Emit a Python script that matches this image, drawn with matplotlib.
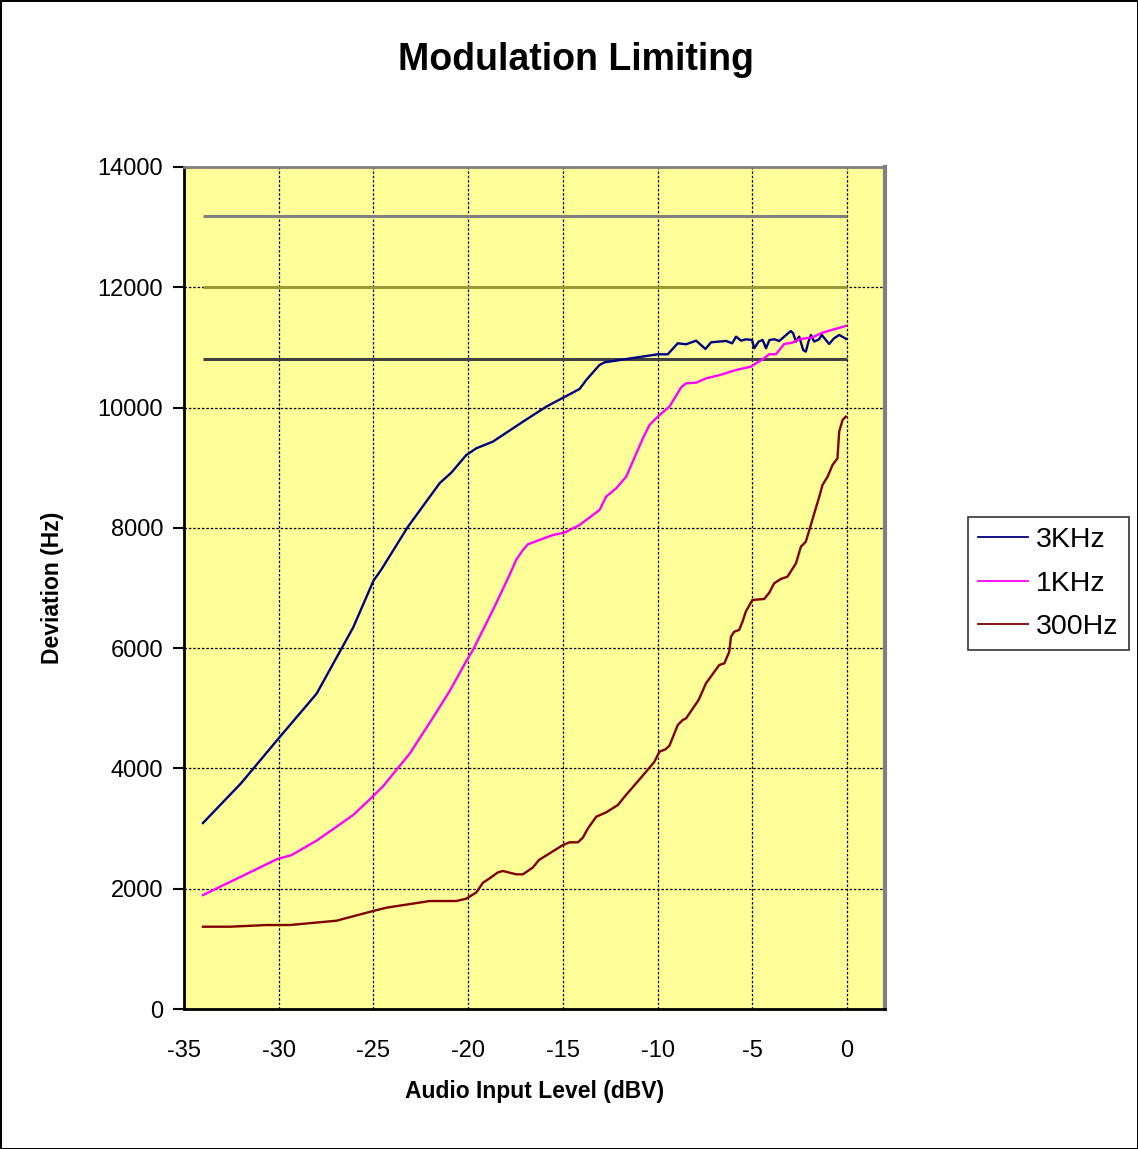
"""
Modulation limiting: deviation vs audio input level for three tones.
"""
import matplotlib
matplotlib.use("Agg")
import matplotlib.pyplot as plt

plt.rcParams["font.family"] = ["Liberation Sans", "DejaVu Sans"]
plt.rcParams["axes.unicode_minus"] = False

# Data
khz3_x = [-34, -32, -30.08, -28.0, -26.07, -25.0, -24.6, -23.18, -21.5, -20.89,
          -20.1, -19.57, -18.7, -17.11, -15.88, -14.12, -13.77, -13.07, -12.8, -10.0,
          -9.47, -8.94, -8.5, -7.97, -7.48, -7.18, -6.39, -6.07, -5.86, -5.6,
          -5.33, -5.02, -4.9, -4.67, -4.46, -4.28, -4.1, -3.84, -3.58, -3.32,
          -2.97, -2.85, -2.7, -2.53, -2.32, -2.18, -2.04, -1.91, -1.74, -1.48,
          -1.34, -0.95, -0.69, -0.42, -0.04]
khz3_y = [3093, 3750, 4473, 5244, 6345, 7121, 7300, 8019, 8745, 8918,
          9211, 9323, 9433, 9765, 10015, 10309, 10458, 10708, 10752, 10885,
          10885, 11068, 11052, 11112, 10974, 11085, 11107, 11068, 11179, 11112,
          11135, 11123, 10985, 11096, 11123, 10985, 11123, 11135, 11107, 11179,
          11273, 11235, 11096, 11179, 10957, 10930, 11096, 11207, 11096, 11135,
          11207, 11057, 11152, 11207, 11140]

khz1_x = [-34, -32, -30.08, -29.32, -28.0, -26.07, -25.0, -24.49, -23.09, -21.94,
          -20.98, -20.07, -19.75, -18.61, -17.82, -17.47, -17.11, -16.85, -15.53, -14.92,
          -14.12, -13.07, -12.72, -12.19, -11.66, -10.78, -10.43, -10.0, -9.38, -8.76,
          -8.5, -7.97, -7.44, -6.71, -5.86, -5.07, -4.81, -4.46, -4.11, -3.76,
          -3.32, -2.88, -2.53, -1.83, -1.3, -0.69, -0.07]
khz1_y = [1895, 2200, 2494, 2560, 2800, 3226, 3545, 3705, 4245, 4805,
          5286, 5803, 5969, 6689, 7216, 7466, 7632, 7727, 7881, 7920,
          8048, 8297, 8518, 8658, 8851, 9489, 9710, 9849, 10015, 10336,
          10403, 10414, 10486, 10541, 10625, 10680, 10736, 10802, 10886, 10886,
          11057, 11079, 11135, 11168, 11245, 11301, 11357]

hz300_x = [-34, -32.57, -30.64, -29.41, -26.95, -25.02, -24.32, -22.03, -20.63, -20.1,
           -19.57, -19.22, -18.87, -18.43, -18.17, -17.47, -17.11, -16.58, -16.27, -15.0,
           -14.65, -14.21, -13.95, -13.68, -13.24, -12.72, -12.1, -11.75, -10.61, -10.17,
           -9.91, -9.59, -9.38, -8.94, -8.68, -8.5, -7.84, -7.45, -6.75, -6.48,
           -6.22, -6.13, -5.96, -5.7, -5.52, -5.35, -5.0, -4.38, -4.11, -3.85,
           -3.5, -3.15, -2.7, -2.44, -2.18, -1.47, -1.3, -1.03, -0.77, -0.51,
           -0.42, -0.24, -0.07]
hz300_y = [1369, 1369, 1397, 1397, 1469, 1630, 1685, 1796, 1796, 1835,
           1940, 2100, 2173, 2273, 2295, 2240, 2240, 2356, 2477, 2727,
           2772, 2772, 2849, 3004, 3198, 3270, 3392, 3530, 3946, 4112,
           4278, 4318, 4378, 4722, 4805, 4833, 5138, 5415, 5720, 5748,
           5941, 6190, 6273, 6302, 6440, 6606, 6801, 6817, 6922, 7078,
           7150, 7188, 7410, 7687, 7770, 8518, 8713, 8851, 9045, 9156,
           9599, 9794, 9849]

# flat limit lines
limit_x = [-34, 0]
limit_levels = [13180, 12000, 10800]
limit_colours = ["#808080", "#9c9a38", "#404040"]

fig = plt.figure(figsize=(11.38, 11.49), dpi=100)
fig.patch.set_edgecolor("black")
fig.patch.set_linewidth(2)
ax = fig.add_axes([0.1617, 0.1218, 0.616, 0.7329])
ax.set_facecolor("#ffff99")

ax.grid(True, color="black", linestyle=(0, (2, 1.5)), linewidth=0.9)
ax.set_axisbelow(True)

for lvl, c in zip(limit_levels, limit_colours):
    ax.plot(limit_x, [lvl, lvl], color=c, linewidth=2.2, solid_capstyle="butt")

ax.plot(khz3_x, khz3_y, color="#000080", linewidth=1.7, label="3KHz")
ax.plot(khz1_x, khz1_y, color="#ff00ff", linewidth=1.7, label="1KHz")
ax.plot(hz300_x, hz300_y, color="#800000", linewidth=1.7, label="300Hz")

ax.set_xlim(-35, 2)
ax.set_ylim(0, 14000)
ax.set_xticks(range(-35, 1, 5))
ax.set_yticks(range(0, 14001, 2000))
ax.tick_params(axis="x", length=0, labelsize=17, pad=22)
ax.tick_params(axis="y", length=8, width=1.5, labelsize=17, pad=7, direction="out")

ax.spines["left"].set_linewidth(2)
ax.spines["bottom"].set_linewidth(2)
ax.spines["top"].set_color("#808080")
ax.spines["top"].set_linewidth(2)
ax.spines["right"].set_color("#808080")
ax.spines["right"].set_linewidth(3)

ax.set_xlabel("Audio Input Level (dBV)", fontsize=16.5, fontweight="bold", labelpad=13)
ax.set_ylabel("Deviation (Hz)", fontsize=16.5, fontweight="bold", labelpad=24)
fig.text(0.506, 0.948, "Modulation Limiting", ha="center", va="center",
         fontsize=27, fontweight="bold")

leg = fig.legend(loc="center left", bbox_to_anchor=(0.8506, 0.492), fontsize=20.5,
                 frameon=True, fancybox=False, edgecolor="black", handlelength=1.75,
                 handletextpad=0.3, labelspacing=0.62, borderpad=0.35,
                 borderaxespad=0)
leg.get_frame().set_linewidth(1.2)
for line in leg.get_lines():
    line.set_linewidth(1.3)

plt.savefig("out.png", dpi=100)
